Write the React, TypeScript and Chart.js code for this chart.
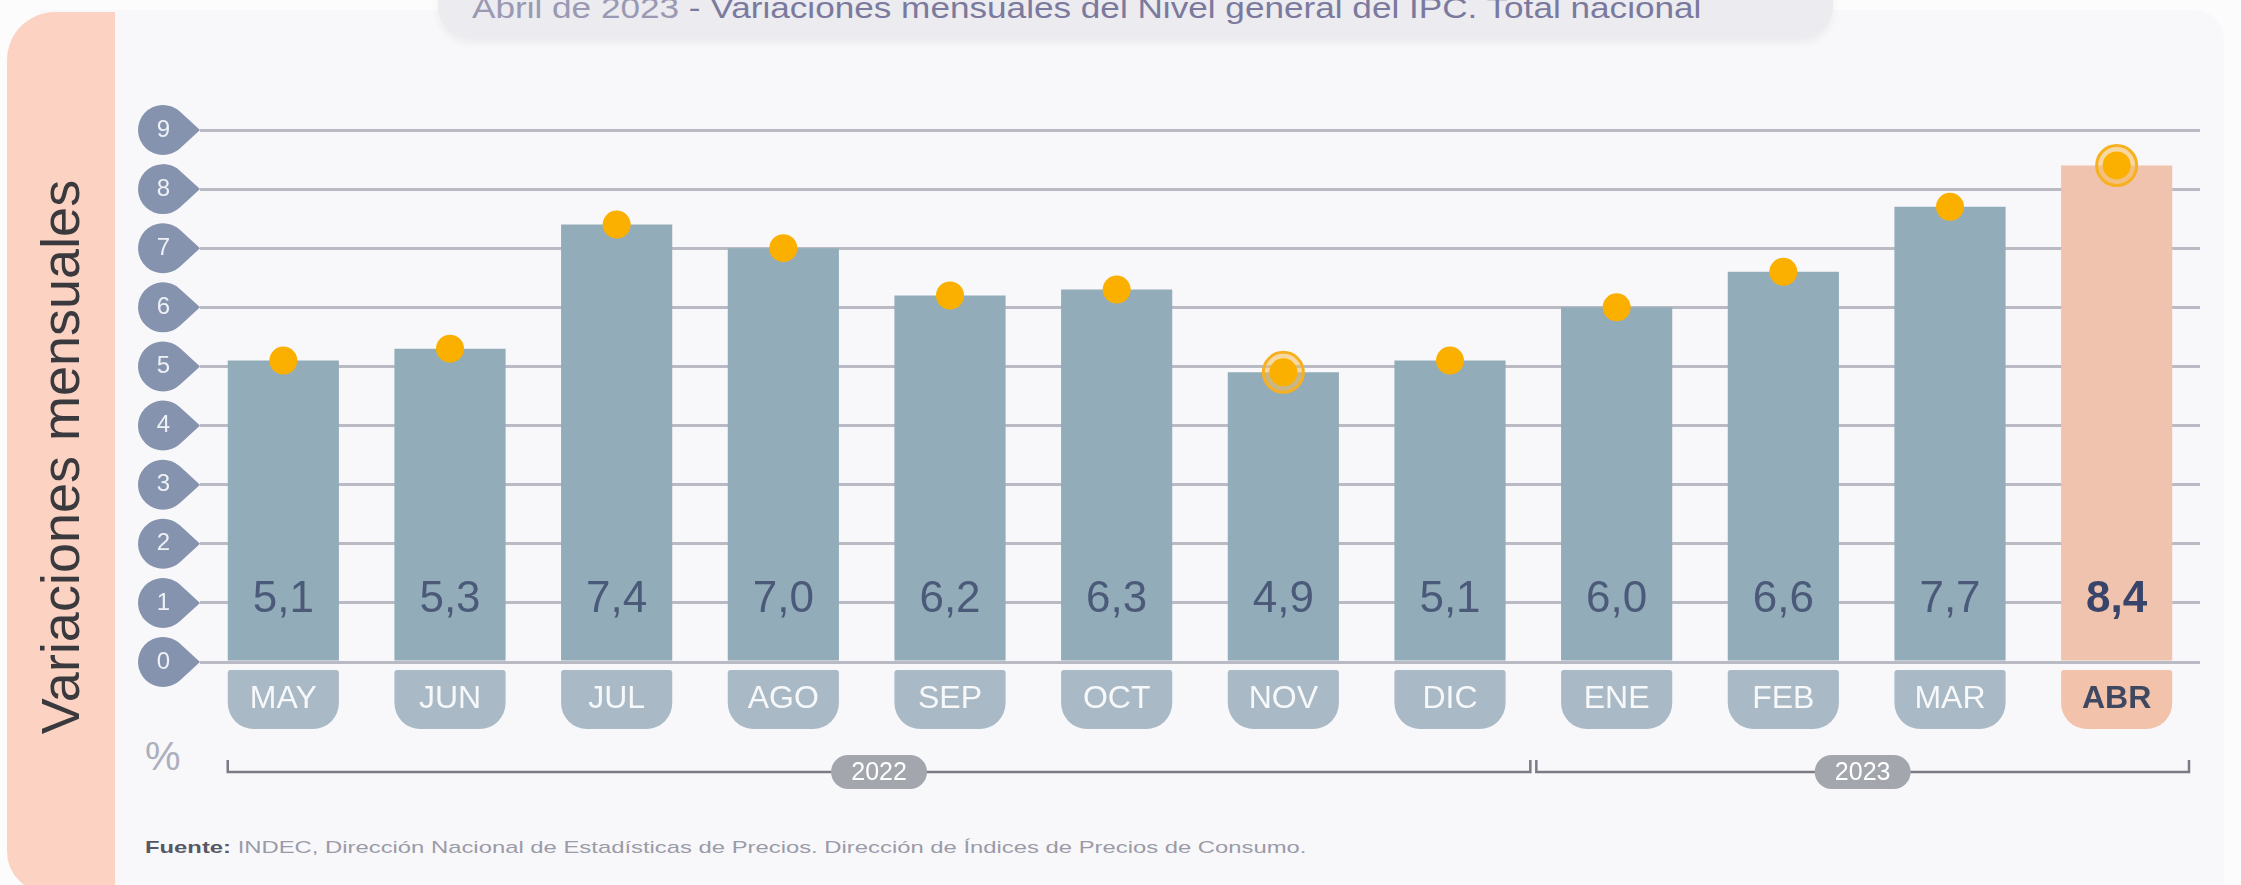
import React, { useEffect, useRef } from 'react';
import { Chart, registerables } from 'chart.js';

Chart.register(...registerables);

// ---- data ----
const MONTHS = ['MAY', 'JUN', 'JUL', 'AGO', 'SEP', 'OCT', 'NOV', 'DIC', 'ENE', 'FEB', 'MAR', 'ABR'];
const VALUES = [5.1, 5.3, 7.4, 7.0, 6.2, 6.3, 4.9, 5.1, 6.0, 6.6, 7.7, 8.4];
const HIGHLIGHT_INDEXES = [6, 11]; // minimum (NOV) and latest month (ABR)
const CURRENT_INDEX = 11;
const Y_MIN = 0;
const Y_MAX = 9;
const Y_STEP = 1;
const YEAR_LABELS = ['2022', '2023'];
const YEAR_FROM = [0, 8];
const YEAR_TO = [7, 11];
const TITLE_DATE = 'Abril de 2023';
const TITLE_REST = ' - Variaciones mensuales del Nivel general del IPC. Total nacional';
const SIDE_TITLE = 'Variaciones mensuales';
const SOURCE_BOLD = 'Fuente:';
const SOURCE_TEXT = ' INDEC, Dirección Nacional de Estadísticas de Precios. Dirección de Índices de Precios de Consumo.';

// ---- styles ----
const FONT = "'Liberation Sans', Arial, Helvetica, sans-serif";
const BAR = '#93acb9';
const BAR_HL = '#f0c3ae';
const TAB = '#a9b9c5';
const TAB_HL = '#f2c2ab';
const DOT = '#fbb000';
const BADGE = '#8593ae';
const GRID = '#b9bac3';
const LABEL = '#4a5a78';
const LABEL_HL = '#38446a';

const fmt = (v: number) => v.toFixed(1).replace('.', ',');

const decoPlugin = {
  id: 'deco',
  beforeDraw(chart: any) {
    const { ctx, chartArea, scales } = chart;
    const y = scales.y;
    ctx.save();
    // y-axis badges (teardrop pointing to the gridline)
    ctx.fillStyle = BADGE;
    y.ticks.forEach((_t: any, i: number) => {
      const py = y.getPixelForTick(i);
      const tip = chartArea.left;
      const cx = tip - 37;
      const r = 25;
      const ang = Math.acos(r / (tip - cx));
      ctx.beginPath();
      ctx.moveTo(tip, py);
      ctx.arc(cx, py, r, -ang, ang, true);
      ctx.closePath();
      ctx.fill();
    });
    // month tabs under bars
    const meta = chart.getDatasetMeta(0);
    meta.data.forEach((bar: any, i: number) => {
      const { x: bx, width } = bar.getProps(['x', 'width'], true);
      const top = chartArea.bottom + 8;
      const bottom = chartArea.bottom + 67;
      ctx.fillStyle = i === CURRENT_INDEX ? TAB_HL : TAB;
      ctx.beginPath();
      (ctx as any).roundRect(bx - width / 2, top, width, bottom - top, [3, 3, 26, 26]);
      ctx.fill();
    });
    ctx.restore();
  },
  afterDatasetsDraw(chart: any) {
    const { ctx, scales } = chart;
    const y = scales.y;
    const meta = chart.getDatasetMeta(0);
    ctx.save();
    ctx.textAlign = 'center';
    ctx.textBaseline = 'alphabetic';
    const base = y.getPixelForValue(1) + 9;
    meta.data.forEach((bar: any, i: number) => {
      const { x: bx } = bar.getProps(['x'], true);
      const hl = i === CURRENT_INDEX;
      ctx.fillStyle = hl ? LABEL_HL : LABEL;
      ctx.font = `${hl ? 'bold ' : ''}44px ${FONT}`;
      ctx.fillText(fmt(VALUES[i]), bx, base);
    });
    ctx.restore();
  },
  afterDraw(chart: any) {
    const { ctx, chartArea, scales } = chart;
    const x = scales.x;
    const meta = chart.getDatasetMeta(0);
    const lineY = chartArea.bottom + 110;
    ctx.save();
    ctx.strokeStyle = '#7b7b85';
    ctx.lineWidth = 2.5;
    YEAR_LABELS.forEach((label, g) => {
      const from = YEAR_FROM[g];
      const to = YEAR_TO[g];
      const first = meta.data[from].getProps(['x', 'width'], true);
      const start = from === 0 ? first.x - first.width / 2 : x.getPixelForValue(from - 0.5) + 3;
      const end = to === MONTHS.length - 1 ? chartArea.right - 11 : x.getPixelForValue(to + 0.5) - 3;
      ctx.beginPath();
      ctx.moveTo(start, lineY - 12);
      ctx.lineTo(start, lineY);
      ctx.lineTo(end, lineY);
      ctx.lineTo(end, lineY - 12);
      ctx.stroke();
      const cx = (start + end) / 2;
      const w = 96;
      const h = 34;
      ctx.fillStyle = '#a3a6ad';
      ctx.beginPath();
      (ctx as any).roundRect(cx - w / 2, lineY - h / 2, w, h, h / 2);
      ctx.fill();
      ctx.fillStyle = '#ffffff';
      ctx.font = `25px ${FONT}`;
      ctx.textAlign = 'center';
      ctx.textBaseline = 'middle';
      ctx.fillText(label, cx, lineY + 1);
    });
    ctx.restore();
  },
};

export default function App() {
  const canvasRef = useRef<HTMLCanvasElement | null>(null);
  const srcRef = useRef<HTMLDivElement | null>(null);
  const titleRef = useRef<HTMLDivElement | null>(null);

  useEffect(() => {
    document.documentElement.style.overflow = 'hidden';
    const ring = VALUES.map((v, i) => (HIGHLIGHT_INDEXES.includes(i) ? v : null));
    const chart = new Chart(canvasRef.current as HTMLCanvasElement, {
      type: 'bar',
      data: {
        labels: MONTHS,
        datasets: [
          {
            type: 'bar',
            data: VALUES,
            backgroundColor: VALUES.map((_, i) => (i === CURRENT_INDEX ? BAR_HL : BAR)),
            barPercentage: 0.667,
            categoryPercentage: 1,
            order: 3,
          } as any,
          {
            type: 'line',
            data: ring,
            showLine: false,
            pointRadius: 20,
            pointBackgroundColor: 'rgba(248, 190, 90, 0.55)',
            pointBorderColor: '#f7b020',
            pointBorderWidth: 3,
            order: 2,
            clip: false,
          } as any,
          {
            type: 'line',
            data: VALUES,
            showLine: false,
            pointRadius: 14,
            pointBackgroundColor: DOT,
            pointBorderWidth: 0,
            order: 1,
            clip: false,
          } as any,
        ],
      },
      options: {
        animation: false,
        responsive: false,
        maintainAspectRatio: false,
        events: [],
        layout: { padding: { left: 140, right: 41, top: 130, bottom: 168 } },
        plugins: {
          legend: { display: false },
          tooltip: { enabled: false },
          title: { display: false },
        },
        scales: {
          x: {
            grid: { display: false, drawTicks: false },
            border: { display: false },
            ticks: {
              autoSkip: false,
              maxRotation: 0,
              padding: 18,
              color: (c: any) => (c.index === CURRENT_INDEX ? '#3e4860' : '#f6f8fa'),
              font: (c: any) => ({ family: FONT, size: 32, weight: c.index === CURRENT_INDEX ? 'bold' : 'normal' }),
            },
            afterFit: (s: any) => {
              s.height = 55;
            },
          },
          y: {
            min: Y_MIN,
            max: Y_MAX,
            ticks: { stepSize: Y_STEP, padding: 30, color: '#eef1f6', font: { family: FONT, size: 24 } },
            grid: { color: GRID, lineWidth: 3, drawTicks: false },
            border: { display: false },
            afterFit: (s: any) => {
              s.width = 60;
            },
          },
        },
      } as any,
      plugins: [decoPlugin],
    });

    const fit = (el: HTMLDivElement | null, target: number) => {
      if (!el) return;
      const w = el.offsetWidth;
      if (w > 0) el.style.transform = `scaleX(${target / w})`;
    };
    fit(srcRef.current, 1162);
    fit(titleRef.current, 1230);
    return () => chart.destroy();
  }, []);

  return (
    <div
      style={{
        position: 'absolute',
        left: 0,
        top: 0,
        width: 2241,
        height: 885,
        overflow: 'hidden',
        background: '#fcfcfd',
        fontFamily: FONT,
      }}
    >
      <div
        style={{
          position: 'absolute',
          left: 40,
          top: 10,
          width: 2184,
          height: 900,
          background: '#f8f8fb',
          borderTopRightRadius: 30,
        }}
      />
      <div
        style={{
          position: 'absolute',
          left: 7,
          top: 12,
          width: 108,
          height: 880,
          background: '#fcd3c3',
          borderTopLeftRadius: 48,
          borderBottomLeftRadius: 40,
        }}
      />
      <div
        style={{
          position: 'absolute',
          left: 60,
          top: 457,
          transform: 'translate(-50%, -50%) rotate(-90deg)',
          whiteSpace: 'nowrap',
          fontSize: 54,
          lineHeight: '60px',
          color: '#3a3a3e',
        }}
      >
        {SIDE_TITLE}
      </div>
      <div
        style={{
          position: 'absolute',
          left: 438,
          top: -32,
          width: 1395,
          height: 70,
          borderRadius: 32,
          background: '#ebebf0',
          boxShadow: '0 5px 8px rgba(0,0,0,0.05)',
        }}
      />
      <div
        ref={titleRef}
        style={{
          position: 'absolute',
          left: 472,
          top: -7,
          fontSize: 30,
          lineHeight: '30px',
          whiteSpace: 'nowrap',
          color: '#7b7a9e',
          transformOrigin: '0 50%',
        }}
      >
        <span style={{ color: '#9a99b3' }}>{TITLE_DATE}</span>
        {TITLE_REST}
      </div>
      <div
        style={{
          position: 'absolute',
          left: 145,
          top: 734,
          fontSize: 40,
          lineHeight: '44px',
          color: '#adafbc',
        }}
      >
        %
      </div>
      <div
        ref={srcRef}
        style={{
          position: 'absolute',
          left: 145,
          top: 837,
          fontSize: 17,
          lineHeight: '22px',
          whiteSpace: 'nowrap',
          color: '#9b9ba7',
          transformOrigin: '0 50%',
        }}
      >
        <b style={{ color: '#585864' }}>{SOURCE_BOLD}</b>
        {SOURCE_TEXT}
      </div>
      <canvas
        ref={canvasRef}
        width={2241}
        height={885}
        style={{ position: 'absolute', left: 0, top: 0, width: 2241, height: 885 }}
      />
    </div>
  );
}
